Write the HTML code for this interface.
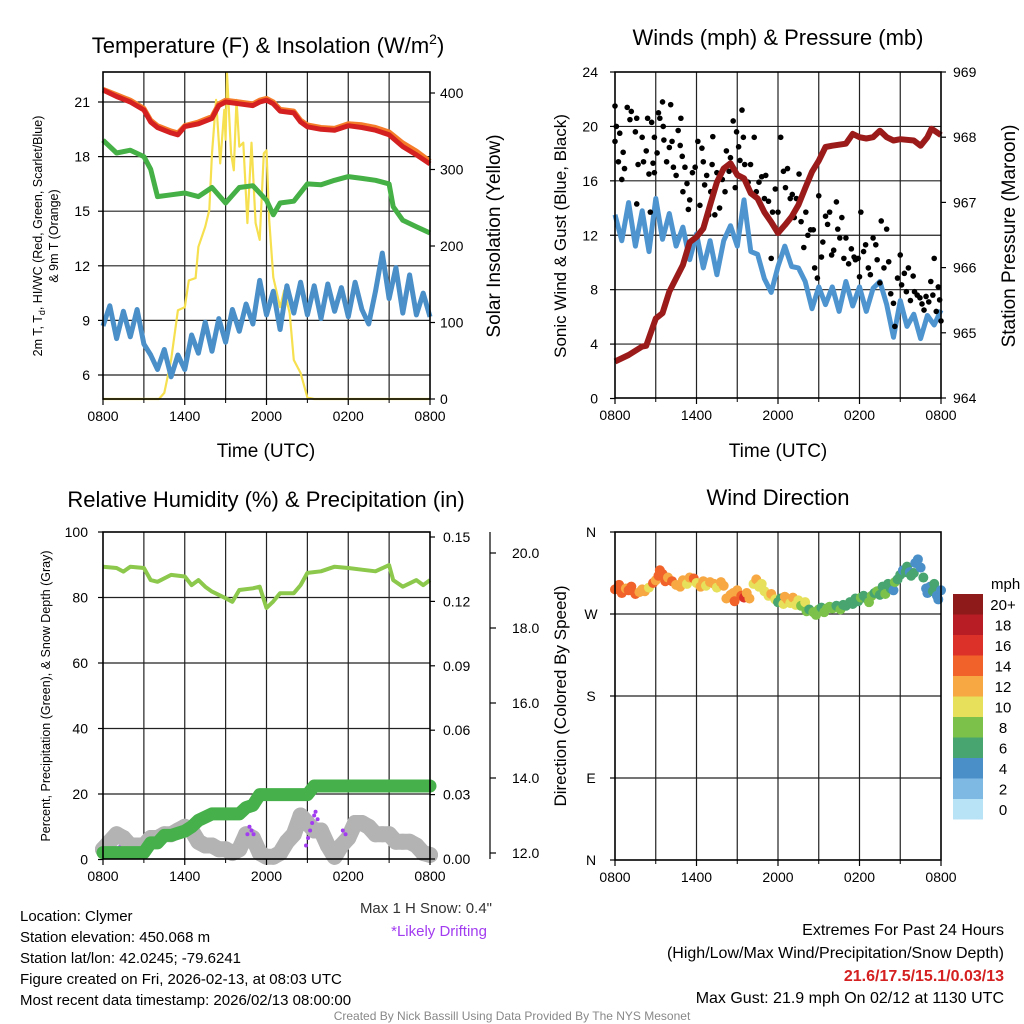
<!DOCTYPE html>
<html><head><meta charset="utf-8"><style>
html,body{margin:0;padding:0;background:#fff;}
svg{display:block;font-family:"Liberation Sans",sans-serif;}
</style></head><body>
<svg id="chart" width="1024" height="1024" viewBox="0 0 1024 1024" xmlns="http://www.w3.org/2000/svg">
<rect width="1024" height="1024" fill="#fff"/>
<text x="268" y="53" font-size="22" text-anchor="middle">Temperature (F) &amp; Insolation (W/m<tspan font-size="14" dy="-9">2</tspan><tspan dy="9">)</tspan></text>
<text x="778" y="45" font-size="22" text-anchor="middle">Winds (mph) &amp; Pressure (mb)</text>
<text x="266" y="507" font-size="22" text-anchor="middle">Relative Humidity (%) &amp; Precipitation (in)</text>
<text x="778" y="505" font-size="22" text-anchor="middle">Wind Direction</text>
<text x="266" y="457" font-size="19" text-anchor="middle">Time (UTC)</text>
<text x="778" y="457" font-size="19" text-anchor="middle">Time (UTC)</text>
<text transform="translate(42,236) rotate(-90)" font-size="12.5" text-anchor="middle">2m T, T<tspan font-size="9" dy="3">d</tspan><tspan dy="-3">, HI/WC (Red, Green, Scarlet/Blue)</tspan></text>
<text transform="translate(58,236) rotate(-90)" font-size="12.5" text-anchor="middle">&amp; 9m T (Orange)</text>
<text transform="translate(500,236) rotate(-90)" font-size="19" text-anchor="middle">Solar Insolation (Yellow)</text>
<text transform="translate(566,236) rotate(-90)" font-size="17" text-anchor="middle">Sonic Wind &amp; Gust (Blue, Black)</text>
<text transform="translate(1015,236) rotate(-90)" font-size="19" text-anchor="middle">Station Pressure (Maroon)</text>
<text transform="translate(50,696) rotate(-90)" font-size="12.5" text-anchor="middle">Percent, Precipitation (Green), &amp; Snow Depth (Gray)</text>
<text transform="translate(566,696) rotate(-90)" font-size="17" text-anchor="middle">Direction (Colored By Speed)</text>
<g font-size="15">
<text x="20" y="921">Location: Clymer</text>
<text x="20" y="942">Station elevation: 450.068 m</text>
<text x="20" y="963">Station lat/lon: 42.0245; -79.6241</text>
<text x="20" y="984">Figure created on Fri, 2026-02-13, at 08:03 UTC</text>
<text x="20" y="1005">Most recent data timestamp: 2026/02/13 08:00:00</text>
</g>
<text x="492" y="913" font-size="15" text-anchor="end" fill="#333">Max 1 H Snow: 0.4"</text>
<text x="487" y="936" font-size="15" text-anchor="end" fill="#a23cf0">*Likely Drifting</text>
<g font-size="16" text-anchor="end">
<text x="1004" y="935">Extremes For Past 24 Hours</text>
<text x="1004" y="958">(High/Low/Max Wind/Precipitation/Snow Depth)</text>
<text x="1004" y="981" fill="#d42020" font-weight="bold">21.6/17.5/15.1/0.03/13</text>
<text x="1004" y="1003">Max Gust: 21.9 mph On 02/12 at 1130 UTC</text>
</g>
<text x="512" y="1020" font-size="12" text-anchor="middle" fill="#888">Created By Nick Bassill Using Data Provided By The NYS Mesonet</text>
</svg>
<script>
// ---------- data ----------
const timeLabels = ["0800","1400","2000","0200","0800"];
const tempHours = [0,1,2,3,3.5,4,5,5.5,6,7,8,8.5,9,10,11,11.5,12,12.5,13,14,14.5,15,16,17,18,19,20,21,22,23,24];
const temp2m = [21.66,21.3,21.0,20.56,19.9,19.6,19.3,19.2,19.65,19.8,20.1,20.8,21.0,20.9,20.8,21.0,21.1,20.9,20.5,20.4,19.9,19.64,19.5,19.45,19.7,19.6,19.45,19.2,18.55,18.1,17.6];
const temp9m = [21.7,21.4,21.1,20.65,20.0,19.7,19.4,19.3,19.7,19.9,20.2,20.9,21.1,21.0,20.9,21.1,21.2,21.0,20.6,20.5,20.0,19.74,19.6,19.55,19.8,19.75,19.6,19.35,18.75,18.3,17.75];
const dewHours = [0,1,2,3,3.5,4,5,6,7,8,9,10,11,12,12.5,13,14,15,16,17,18,19,20,21,21.3,22,23,24];
const dewPoint = [18.9,18.2,18.35,18.0,17.3,15.8,15.9,16.0,15.8,16.3,15.45,16.3,16.4,15.6,14.8,15.45,15.55,16.5,16.45,16.7,16.9,16.8,16.7,16.5,15.25,14.5,14.15,13.8];
const windChill = [8.7,9.8,8.0,9.5,8.1,9.6,7.7,7.1,6.3,7.4,5.9,7.1,6.3,8.2,7.2,8.9,7.3,9.1,7.8,9.6,8.4,9.9,8.8,11.2,9.3,10.6,8.5,10.9,9.4,11.1,9.3,10.9,9.1,11.0,9.5,10.8,9.2,11.1,9.6,8.8,10.6,12.7,10.2,11.9,9.4,11.5,9.3,10.5,9.2];
const solarHours = [0,4.1,4.5,5,5.5,6,6.3,6.8,7,7.5,7.8,8,8.3,8.6,8.9,9,9.1,9.4,9.6,9.8,10,10.3,10.6,10.9,11.2,11.5,11.8,12,12.2,12.5,13,13.3,13.7,14,14.5,15,15.5,24];
const solar = [0,0,8,51,116,120,155,158,199,225,247,321,391,308,378,339,426,321,299,391,330,335,230,335,230,208,321,325,234,159,120,142,112,51,34,2,0,0];
const sonicWind = [13.5,11.6,14.4,11.2,13.8,10.8,14.7,11.7,13.6,11.2,12.6,10.2,12.1,9.6,11.6,9.1,11.6,12.7,11.2,14.6,10.8,10.6,8.8,7.8,9.7,11.2,9.7,9.6,8.6,6.6,8.2,6.9,8.2,6.4,8.6,6.8,8.2,6.4,8.1,8.6,6.9,4.5,7.2,5.3,6.2,4.4,6.1,5.4,6.5];
const pressHours = [0,1,2,2.3,3,3.5,4,5,5.5,6,6.5,7,7.5,8,8.5,9,9.5,10,10.5,11,11.5,12,12.5,13,13.5,14,14.5,15,15.5,16,17,17.5,18,18.5,19,19.5,20,20.5,21,22,22.5,23,23.3,24];
const pressure = [964.56,964.66,964.79,964.8,965.22,965.3,965.63,966.04,966.39,966.47,966.6,966.96,967.31,967.52,967.6,967.42,967.37,967.14,967.06,966.85,966.7,966.53,966.65,966.78,966.96,967.22,967.47,967.64,967.85,967.87,967.9,968.05,968.0,967.98,968.0,968.1,968.0,967.95,967.97,967.95,967.87,968.0,968.13,968.03];
const gustHours = [0,0.1,0.35,0,0.25,0.5,0.6,0.7,0.9,1.1,1.2,1.5,1.6,1.7,1.6,2.0,2.1,2.3,2.4,2.5,2.6,2.7,2.8,2.9,2.9,3.1,3.2,3.3,3.5,3.55,3.6,3.8,4.0,4.1,4.2,4.3,4.5,4.65,4.8,4.85,4.95,5.0,5.15,5.3,5.4,5.5,5.7,5.9,6.1,6.25,6.4,6.5,6.6,6.75,6.9,7.05,7.15,7.2,7.35,7.5,7.7,7.9,8.1,8.2,8.4,8.5,8.7,8.85,8.95,9.1,9.2,9.35,9.45,9.55,9.8,9.98,10.25,10.4,10.6,10.8,11.0,11.1,11.3,11.5,11.6,11.8,12.0,12.2,12.4,12.55,12.7,12.9,13.05,13.2,13.35,13.55,13.7,13.9,14.05,14.2,14.4,14.6,14.7,14.9,15.0,15.2,15.3,15.5,15.65,15.8,15.95,16.1,16.3,16.4,16.55,16.7,16.85,17.0,17.2,17.4,17.6,17.7,17.9,18.0,18.1,18.3,18.45,18.65,18.8,19.0,19.2,19.3,19.5,19.6,19.8,20.0,20.15,20.3,20.5,20.6,20.8,21.0,21.1,21.3,21.45,21.6,21.75,21.95,22.05,22.25,22.45,22.6,22.75,22.9,23.1,23.25,23.4,23.5,23.65,23.8,23.9,24.0];
const gustSpeed = [21.5,20.0,19.5,18.9,17.4,16.1,18.1,16.9,21.4,20.5,21.1,19.6,20.6,17.2,14.3,19.2,17.4,18.2,20.6,16.5,13.7,20.3,17.3,19.2,16.6,18.05,21.0,20.6,21.8,20.0,19.0,17.4,18.45,21.6,18.9,17.0,16.4,19.7,18.6,20.6,17.8,15.2,17.0,15.8,13.9,14.6,16.6,17.0,18.9,14.2,18.4,17.4,15.7,16.4,13.5,15.2,17.2,19.25,13.5,16.6,14.0,16.1,15.2,18.2,16.7,17.7,20.4,15.5,19.6,18.5,17.5,21.2,19.2,17.2,15.9,17.2,19.2,15.2,15.9,16.3,14.7,16.4,14.5,10.3,13.7,15.4,13.7,19.2,16.7,15.5,16.9,14.7,15.0,13.3,14.7,16.5,13.0,11.1,13.7,12.0,12.4,12.4,9.6,8.85,14.9,10.4,11.5,13.4,12.8,13.7,10.55,10.9,14.45,12.45,11.8,13.3,10.3,11.8,9.9,11.0,10.4,10.2,10.3,8.95,13.7,10.8,11.3,9.6,9.1,11.8,11.3,10.2,8.5,13.05,9.6,12.45,10.05,7.7,7.0,5.3,8.85,10.55,8.35,9.2,7.85,9.6,7.2,9.0,7.85,7.6,7.4,6.95,6.5,7.5,7.1,8.6,7.6,10.3,6.4,8.2,7.25,5.7];
const rhHours = [0,1,1.5,2,3,3.5,4,5,6,6.5,7,7.5,8,9,9.5,10,11,11.5,12,12.5,13,14,14.5,15,16,17,18,19,20,21,21.3,22,23,23.5,24];
const humidity = [89.4,89.0,87.9,89.4,89.0,85.3,84.8,86.9,86.4,83.8,85.3,83.3,81.8,79.8,78.7,82.3,82.8,83.3,76.8,78.8,81.3,81.3,83.8,87.5,88.0,89.4,89.0,88.5,88.0,89.9,85.3,83.3,85.3,83.8,85.3];
const precipHours = [0,1,2,3,3.5,4,4.5,5,6,6.5,7,8,9,10,10.5,11,11.5,12,13,14,15,15.5,16,17,18,19,20,21,22,23,24];
const precip = [0.003,0.003,0.003,0.003,0.0075,0.0075,0.011,0.011,0.013,0.015,0.018,0.021,0.021,0.021,0.024,0.025,0.03,0.03,0.03,0.03,0.03,0.034,0.034,0.034,0.034,0.034,0.034,0.034,0.034,0.034,0.034];
const snowHours = [0,0.5,1,1.5,2,2.5,3,3.5,4,4.5,5,5.5,6,6.5,7,7.5,8,8.5,9,9.5,10,10.5,11,11.5,12,12.5,13,13.5,14,14.5,15,15.5,16,16.5,17,17.5,18,18.5,19,19.5,20,20.5,21,21.5,22,22.5,23,23.5,24];
const snowDepth = [12.1,12.3,12.5,12.4,12.2,12.2,12.2,12.4,12.4,12.5,12.5,12.6,12.7,12.6,12.3,12.2,12.2,12.1,12.1,12.0,12.1,12.5,12.4,12.0,11.9,11.9,12.0,12.3,12.5,13.0,12.8,12.6,12.6,12.2,11.9,12.2,12.4,12.8,12.8,12.7,12.5,12.5,12.5,12.3,12.3,12.3,12.2,12.0,11.95];
const driftHours = [1.0,1.2,10.6,10.75,10.9,11.05,14.9,15.05,15.2,15.35,15.5,15.6,15.75,17.6,17.8];
const driftDepth = [12.1,12.15,12.5,12.7,12.6,12.5,12.2,12.4,12.6,12.8,13.0,13.1,12.9,12.6,12.5];
const dirHours = [0.0,0.3,0.5,0.8,1.0,1.2,1.5,1.8,2.0,2.2,2.5,2.8,3.0,3.2,3.3,3.5,3.7,3.9,4.2,4.5,4.8,5.0,5.3,5.5,5.8,6.0,6.3,6.5,6.7,7.0,7.3,7.5,7.8,8.0,8.2,8.5,8.7,8.8,9.0,9.3,9.5,9.7,9.9,10.2,10.4,10.6,10.8,11.0,11.3,11.5,11.8,12.0,12.2,12.4,12.5,12.7,12.9,13.1,13.3,13.5,13.7,14.0,14.1,14.3,14.6,14.8,15.0,15.2,15.4,15.6,15.8,16.0,16.3,16.6,16.8,17.0,17.3,17.5,17.7,17.9,18.1,18.3,18.5,18.7,18.9,19.1,19.3,19.5,19.7,19.9,20.1,20.3,20.5,20.6,20.8,21.0,21.2,21.4,21.5,21.7,21.8,22.0,22.1,22.3,22.5,22.7,22.9,23.0,23.2,23.4,23.5,23.7,23.8,24.0];
const dirDegrees = [297,302,293,298,296,300,292,294,297,295,299,304,307,312,318,314,306,310,306,302,300,307,303,310,309,304,300,306,301,305,303,299,305,301,287,291,293,284,296,290,288,293,287,303,308,300,303,295,290,292,286,283,287,281,289,286,282,288,280,285,279,283,273,275,272,269,275,277,272,276,278,276,279,275,280,279,283,281,287,284,288,290,287,283,290,293,295,291,300,292,303,298,296,305,308,313,318,316,322,316,312,315,326,330,321,310,298,293,300,295,303,290,286,296];
const dirSpeed = [14,14,14,13,15,14,14,12,13,12,11,14,13,15,14,15,14,12,14,13,12,12,11,12,14,11,12,12,11,12,12,11,12,12,12,13,12,15,13,14,16,12,12,11,12,11,10,11,10,12,10,6,7,10,12,13,10,12,11,10,9,10,8,7,8,8,8,7,8,8,8,8,7,8,7,6,7,6,7,7,8,6,7,8,8,7,8,6,7,8,6,7,4,8,6,6,5,6,6,5,6,6,4,5,4,6,5,4,5,6,6,5,4,4];
const speedLabels = ["20+","18","16","14","12","10","8","6","4","2","0"];
const speedColors = ["#8e1a1a","#b81c24","#dc3128","#f0622a","#f7a842","#e6e05a","#7cc24a","#48a56f","#4a8fc8","#7eb9e3","#b8e3f7"];
const tempTicks = [6,9,12,15,18,21];
const solarTicks = [0,100,200,300,400];
const windTicks = [0,4,8,12,16,20,24];
const pressTicks = [964,965,966,967,968,969];
const rhTicks = [0,20,40,60,80,100];
const precipTicks = [0,0.03,0.06,0.09,0.12,0.15];
const snowTicks = [12,14,16,18,20];
const dirTicks = [0,90,180,270,360];
const dirTickLabels = ["N","E","S","W","N"];

// ---------- helpers ----------
const svg = document.getElementById('chart');
const NS = 'http://www.w3.org/2000/svg';
function mk(tag, attrs, parent) {
  const e = document.createElementNS(NS, tag);
  for (const k in attrs) e.setAttribute(k, attrs[k]);
  (parent || svg).appendChild(e);
  return e;
}
function lin(d0, d1, r0, r1) { return v => r0 + (v - d0) * (r1 - r0) / (d1 - d0); }
function pathFrom(xsArr, ysArr, fx, fy) {
  let d = '';
  for (let i = 0; i < xsArr.length; i++) d += (i ? 'L' : 'M') + fx(xsArr[i]).toFixed(1) + ',' + fy(ysArr[i]).toFixed(1);
  return d;
}
function seqHours(n) { const a = []; for (let i = 0; i < n; i++) a.push(i * 24 / (n - 1)); return a; }

function frame(P, name) {
  const g = mk('g', {});
  
  
  for (let h = 3; h < 24; h += 3) {
    const ln = mk('line', {x1: P.x(h), x2: P.x(h), y1: P.y0, y2: P.y1, stroke: '#222', 'stroke-width': 1.2}, g);
    
    
  }
  return g;
}
function border(P, name) {
  const r = mk('rect', {x: P.x0, y: P.y0, width: P.x1 - P.x0, height: P.y1 - P.y0, fill: 'none', stroke: '#000', 'stroke-width': 1.6});
  
  
  for (let i = 0; i < timeLabels.length; i++) {
    const x = P.x(i * 6);
    const t = mk('line', {x1: x, x2: x, y1: P.y1, y2: P.y1 + 6, stroke: '#000', 'stroke-width': 1.2});
    
    
    const l = mk('text', {x: x, y: P.y1 + 22, 'font-size': 14, 'text-anchor': 'middle'});
    l.textContent = timeLabels[i];
    
    
  }
  for (let h = 3; h < 24; h += 6) {
    const t = mk('line', {x1: P.x(h), x2: P.x(h), y1: P.y1, y2: P.y1 + 4, stroke: '#000', 'stroke-width': 1});
    
    
  }
}
function hgrid(P, ticks, fy) {
  for (const v of ticks) {
    const y = fy(v);
    if (y <= P.y0 + 1 || y >= P.y1 - 1) continue;
    const ln = mk('line', {x1: P.x0, x2: P.x1, y1: y, y2: y, stroke: '#222', 'stroke-width': 1.2});
    
    
  }
}
function yLabels(ticks, labels, fy, x, anchor, tickX, tickDir, size) {
  for (let i = 0; i < ticks.length; i++) {
    const y = fy(ticks[i]);
    const t = mk('line', {x1: tickX, x2: tickX + tickDir, y1: y, y2: y, stroke: '#000', 'stroke-width': 1.2});
    
    
    const l = mk('text', {x: x, y: y + 5, 'font-size': size || 14, 'text-anchor': anchor});
    l.textContent = labels[i];
    
    
  }
}

// ---------- panel 1: temperature ----------
const P1 = {x0: 103, x1: 430, y0: 72, y1: 399};
P1.x = lin(0, 24, P1.x0, P1.x1);
const t1y = lin(6, 21, 375, 102);
const s1y = lin(0, 400, 399, 93);
frame(P1, 'temperature');
hgrid(P1, tempTicks, t1y);
const solarLine = mk('path', {d: pathFrom(solarHours, solar, P1.x, s1y), fill: 'none', stroke: '#f6e050', 'stroke-width': 2.2, 'stroke-linejoin': 'round'});


const wcLine = mk('path', {d: pathFrom(seqHours(windChill.length), windChill, P1.x, t1y), fill: 'none', stroke: '#4a8fc8', 'stroke-width': 5, 'stroke-linejoin': 'round'});


const dewLine = mk('path', {d: pathFrom(dewHours, dewPoint, P1.x, t1y), fill: 'none', stroke: '#45b045', 'stroke-width': 5, 'stroke-linejoin': 'round'});


const t9Line = mk('path', {d: pathFrom(tempHours, temp9m, P1.x, t1y), fill: 'none', stroke: '#f57d2a', 'stroke-width': 5, 'stroke-linejoin': 'round'});


const t2Line = mk('path', {d: pathFrom(tempHours, temp2m, P1.x, t1y), fill: 'none', stroke: '#d42020', 'stroke-width': 5, 'stroke-linejoin': 'round'});


border(P1, 'temperature');
yLabels(tempTicks, tempTicks.map(String), t1y, 90, 'end', P1.x0, -5);
yLabels(solarTicks, solarTicks.map(String), s1y, 440, 'start', P1.x1, 5);

// ---------- panel 2: winds ----------
const P2 = {x0: 615, x1: 941, y0: 72, y1: 398};
P2.x = lin(0, 24, P2.x0, P2.x1);
const w2y = lin(0, 24, 398.5, 72);
const p2y = lin(964, 969, 398, 72);
frame(P2, 'winds');
hgrid(P2, windTicks, w2y);
const sonicLine = mk('path', {d: pathFrom(seqHours(sonicWind.length), sonicWind, P2.x, w2y), fill: 'none', stroke: '#4e95d0', 'stroke-width': 5, 'stroke-linejoin': 'round'});


const gustG = mk('g', {fill: '#000'});


for (let i = 0; i < gustHours.length; i++) {
  const c = mk('circle', {cx: P2.x(gustHours[i]), cy: w2y(gustSpeed[i]), r: 2.8}, gustG);
  
  
}
const pressLine = mk('path', {d: pathFrom(pressHours, pressure, P2.x, p2y), fill: 'none', stroke: '#9b1b1b', 'stroke-width': 6, 'stroke-linejoin': 'round'});


border(P2, 'winds');
yLabels(windTicks, windTicks.map(String), w2y, 598, 'end', P2.x0, -5);
yLabels(pressTicks, pressTicks.map(String), p2y, 953, 'start', P2.x1, 5);

// ---------- panel 3: humidity ----------
const P3 = {x0: 103, x1: 430, y0: 532, y1: 859};
P3.x = lin(0, 24, P3.x0, P3.x1);
const r3y = lin(0, 100, 859.5, 532);
const pr3y = lin(0, 0.15, 859, 537);
const sn3y = lin(12, 20, 853, 553);
frame(P3, 'humidity');
hgrid(P3, rhTicks, r3y);
const snowG = mk('g', {fill: '#b3b3b3'});


for (let i = 0; i < snowHours.length; i++) {
  const c = mk('circle', {cx: P3.x(snowHours[i]), cy: Math.min(sn3y(snowDepth[i]), 859), r: 8}, snowG);
  
  
}
const snowLine = mk('path', {d: pathFrom(snowHours, snowDepth, P3.x, v => Math.min(sn3y(v), 859)), fill: 'none', stroke: '#b3b3b3', 'stroke-width': 16, 'stroke-linejoin': 'round', 'stroke-linecap': 'round'});


const driftG = mk('g', {fill: '#a23cf0'});


for (let i = 0; i < driftHours.length; i++) {
  const c = mk('circle', {cx: P3.x(driftHours[i]), cy: sn3y(driftDepth[i]), r: 2}, driftG);
  
  
}
const precipLine = mk('path', {d: pathFrom(precipHours, precip, P3.x, pr3y), fill: 'none', stroke: '#46b04a', 'stroke-width': 13, 'stroke-linejoin': 'round', 'stroke-linecap': 'round'});


const rhLine = mk('path', {d: pathFrom(rhHours, humidity, P3.x, r3y), fill: 'none', stroke: '#8cc84b', 'stroke-width': 4, 'stroke-linejoin': 'round'});


border(P3, 'humidity');
yLabels(rhTicks, rhTicks.map(String), r3y, 88, 'end', P3.x0, -5);
yLabels(precipTicks, precipTicks.map(v => v.toFixed(2)), pr3y, 443, 'start', P3.x1, 5);
const snowAxis = mk('line', {x1: 490, x2: 490, y1: 532, y2: 859, stroke: '#000', 'stroke-width': 1.2});


yLabels(snowTicks, snowTicks.map(v => v.toFixed(1)), sn3y, 512, 'start', 490, 6);

// ---------- panel 4: direction ----------
const P4 = {x0: 615, x1: 941, y0: 532, y1: 860};
P4.x = lin(0, 24, P4.x0, P4.x1);
const d4y = lin(0, 360, 860, 532);
frame(P4, 'direction');
hgrid(P4, dirTicks, d4y);
const dirG = mk('g', {});


for (let i = 0; i < dirHours.length; i++) {
  const bin = Math.min(10, Math.floor(dirSpeed[i] / 2));
  const c = mk('circle', {cx: P4.x(dirHours[i]), cy: d4y(dirDegrees[i]), r: 5, fill: speedColors[10 - bin]}, dirG);
  
  
}
border(P4, 'direction');
yLabels(dirTicks, dirTickLabels, d4y, 591, 'middle', P4.x0, -5);
const cbG = mk('g', {});


const mph = mk('text', {x: 991, y: 589, 'font-size': 15}, cbG);
mph.textContent = 'mph';


for (let i = 0; i < speedLabels.length; i++) {
  const y = 594 + i * 20.5;
  const r = mk('rect', {x: 953, y: y, width: 30, height: 20.5, fill: speedColors[i]}, cbG);
  
  
  const l = mk('text', {x: 1003, y: y + 16, 'font-size': 15, 'text-anchor': 'middle'}, cbG);
  l.textContent = speedLabels[i];
  
  
}
</script>
</body></html>
